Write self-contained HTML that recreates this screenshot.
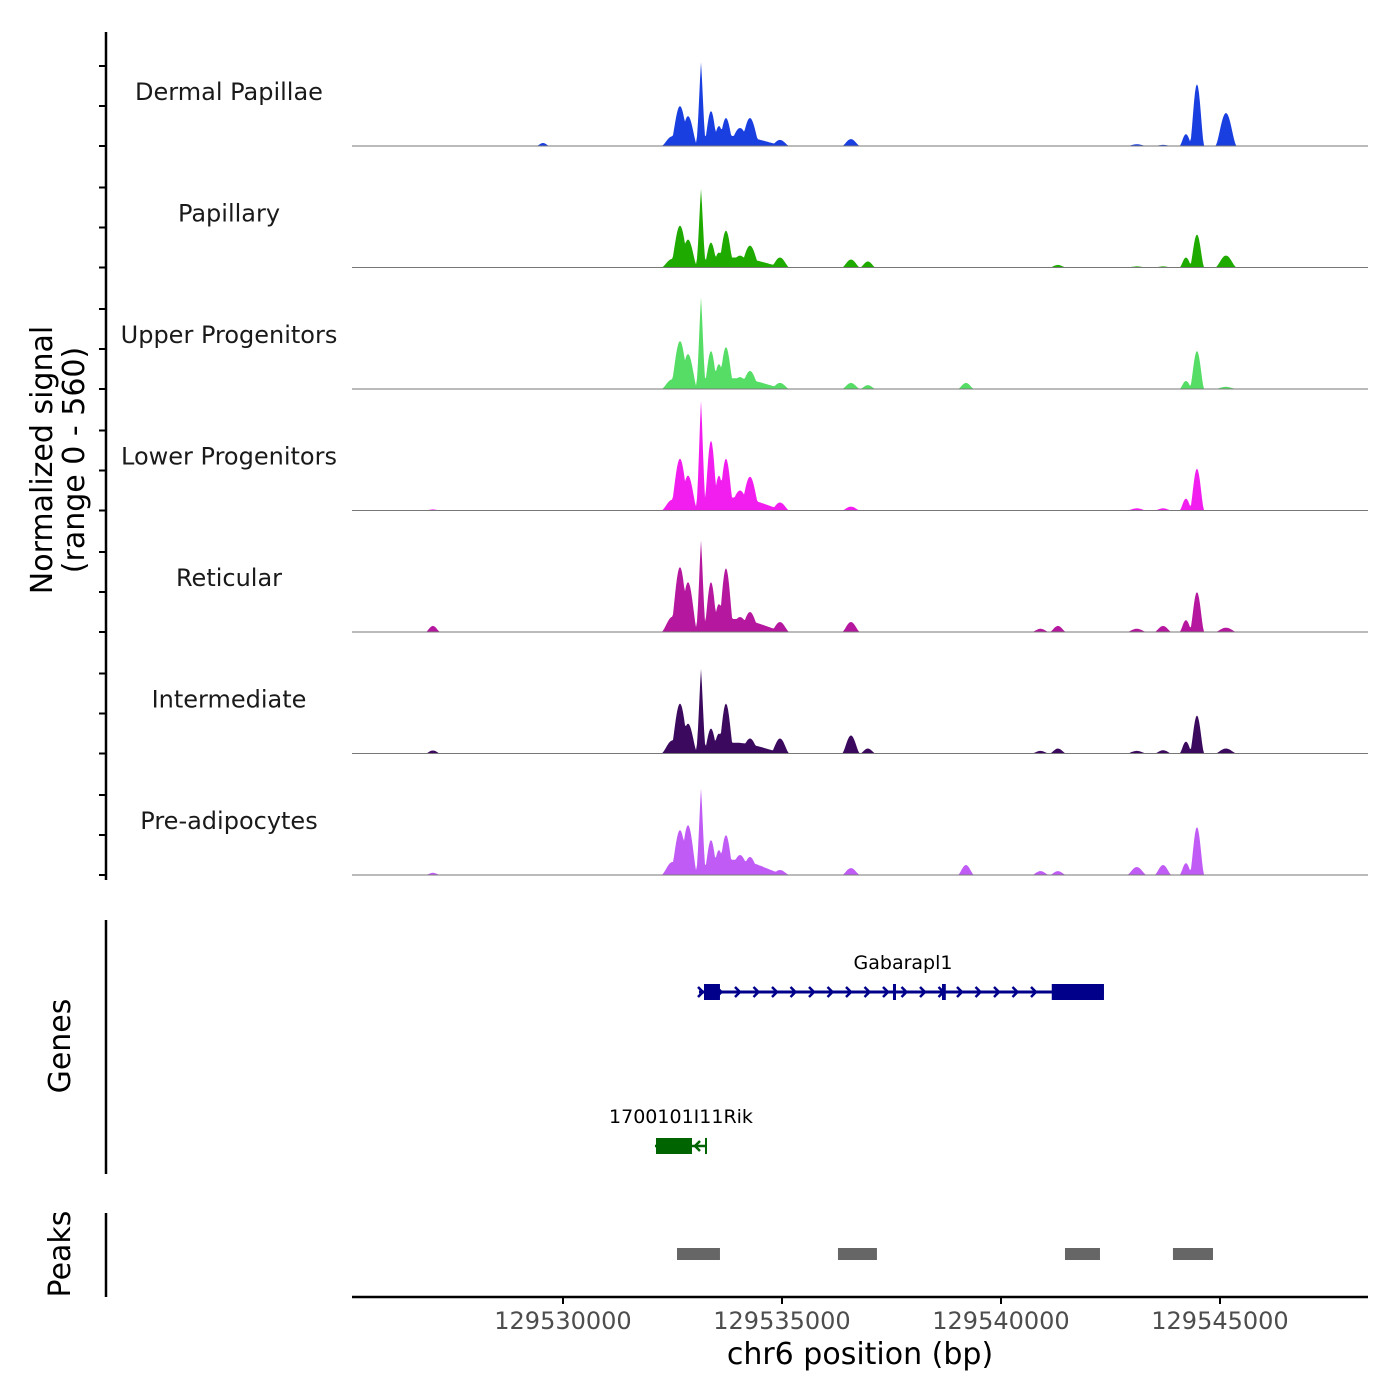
<!DOCTYPE html>
<html><head><meta charset="utf-8"><style>
html,body{margin:0;padding:0;background:#fff}
svg{display:block;font-family:"DejaVu Sans","Liberation Sans",sans-serif}
</style></head><body>
<svg id="chart" width="1400" height="1400" viewBox="0 0 1400 1400" xmlns="http://www.w3.org/2000/svg">
<g id="tracks"></g>
<g id="yaxis"></g>
<text transform="translate(52,460) rotate(-90)" text-anchor="middle" font-size="30" fill="#000">Normalized signal</text>
<text transform="translate(84,460) rotate(-90)" text-anchor="middle" font-size="30" fill="#000">(range 0 - 560)</text>
<line x1="106" y1="920" x2="106" y2="1174" stroke="#000" stroke-width="2.5"/>
<text transform="translate(70,1046) rotate(-90)" text-anchor="middle" font-size="30">Genes</text>
<line x1="106" y1="1213" x2="106" y2="1297" stroke="#000" stroke-width="2.5"/>
<text transform="translate(70,1254) rotate(-90)" text-anchor="middle" font-size="30">Peaks</text>
<g id="genes"></g>
<g id="peaks"></g>
<g id="xaxis"></g>
<text x="860" y="1364" text-anchor="middle" font-size="30">chr6 position (bp)</text>
</svg>
<script>
// ---- data ----
const regionStart = 129525183;
const regionEnd = 129548379;
const trackNames = ["Dermal Papillae","Papillary","Upper Progenitors","Lower Progenitors","Reticular","Intermediate","Pre-adipocytes"];
const trackColors = ["#1a3fe0","#1faa00","#55dd66","#f21ef0","#b5179e","#3b0a5e","#c05cf5"];
// peak centres (bp) and half-widths (bp) shared by tracks
const peakPos = [129532500,129532671,129532854,129533151,129533379,129533561,129533721,129534041,129534269,129534954,129536575,129536960,129539200,129540900,129541300,129543100,129543700,129544223,129544474,129545136,129533900,129529543,129527030];
const peakWidth = [260,230,220,140,170,170,190,280,240,220,210,180,190,200,190,230,200,150,170,250,1300,150,170];
// signal per track (0-560)
const sigDermal = [45,184,138,386,161,92,129,83,129,28,32,0,0,0,0,8,5,55,285,152,46,14,0];
const sigPapillary = [40,193,129,363,115,69,170,55,101,46,37,28,0,0,12,5,5,46,152,55,46,0,0];
const sigUpper = [45,221,161,423,175,115,193,55,83,28,28,18,28,0,0,0,0,37,175,10,50,0,0];
const sigLower = [50,239,161,506,322,161,239,92,156,37,18,0,0,0,0,10,10,55,193,0,60,0,5];
const sigReticular = [70,299,230,423,230,129,294,69,92,46,46,0,0,15,28,15,28,55,184,20,60,0,28];
const sigIntermediate = [60,230,138,391,115,92,230,46,69,69,83,23,0,12,23,12,15,55,175,23,50,0,14];
const sigPreadip = [60,207,230,400,161,115,184,92,83,23,32,0,46,18,18,37,46,55,221,0,70,0,10];
const trackSignals = [sigDermal,sigPapillary,sigUpper,sigLower,sigReticular,sigIntermediate,sigPreadip];
const xTicks = [129530000,129535000,129540000,129545000];
const genePeaksStart = [129532603,129536278,129541461,129543926];
const genePeaksEnd = [129533584,129537168,129542260,129544840];

// ---- scales ----
const X0 = 352, X1 = 1368;
const xs = bp => X0 + (bp - regionStart) / (regionEnd - regionStart) * (X1 - X0);
const trackH = 121.5, firstBase = 146, maxSig = 560;
const ys = (i, v) => firstBase + i * trackH - v / maxSig * trackH;
const NS = "http://www.w3.org/2000/svg";
function mk(tag, attrs, parent) {
  const e = document.createElementNS(NS, tag);
  for (const k in attrs) e.setAttribute(k, attrs[k]);
  parent.appendChild(e);
  return e;
}

// ---- tracks ----
const tg = document.getElementById("tracks");
trackNames.forEach((name, i) => {
  const sig = trackSignals[i];
  let pts = [];
  for (let px = X0; px <= X1; px += 1) {
    const bp = regionStart + (px - X0) / (X1 - X0) * (regionEnd - regionStart);
    let v = 0;
    for (let k = 0; k < peakPos.length; k++) {
      const d = Math.abs(bp - peakPos[k]) / peakWidth[k];
      if (d < 1) { const s = 1 - d * d; v = Math.max(v, sig[k] * s * s * (k === 3 ? (1 - d) : 1)); }
    }
    pts.push(px + "," + ys(i, v).toFixed(1));
  }
  const base = ys(i, 0);
  const area = mk("polygon", {points: X0 + "," + base + " " + pts.join(" ") + " " + X1 + "," + base, fill: trackColors[i]}, tg);
  
  
  const bl = mk("line", {x1: X0, x2: X1, y1: base, y2: base, stroke: "#777", "stroke-width": 1}, tg);
  
  
  const lab = mk("text", {x: 229, y: base - 46, "text-anchor": "middle", "font-size": 24, fill: "#1a1a1a"}, tg);
  lab.textContent = name;
  
  
});

// ---- y axis ----
const ya = document.getElementById("yaxis");
mk("line", {x1: 106, x2: 106, y1: 32, y2: 880, stroke: "#000", "stroke-width": 2.5}, ya);
for (let i = 0; i < 7; i++) for (let k = 0; k < 3; k++) {
  const y = firstBase + i * trackH - k * 40;
  const t = mk("line", {x1: 99, x2: 106, y1: y, y2: y, stroke: "#000", "stroke-width": 2}, ya);
  
  
}

// ---- genes ----
const gg = document.getElementById("genes");
const gStart = 129533105, gEnd = 129542351, gy = 992;
mk("line", {x1: xs(gStart), x2: xs(gEnd), y1: gy, y2: gy, stroke: "#00008b", "stroke-width": 3}, gg);
const exonS = [129533219, 129537534, 129538653, 129541159];
const exonE = [129533584, 129537600, 129538740, 129542351];
exonS.forEach((s, k) => {
  const r = mk("rect", {x: xs(s), y: gy - 8, width: Math.max(3, xs(exonE[k]) - xs(s)), height: 16, fill: "#00008b"}, gg);
  
  
});
for (let px = 701; px < 1045; px += 18.5) {
  mk("polyline", {points: `${px-3},${gy-5} ${px+2},${gy} ${px-3},${gy+5}`, fill: "none", stroke: "#00008b", "stroke-width": 2.5}, gg);
}
const gl = mk("text", {x: 903, y: 969, "text-anchor": "middle", "font-size": 19}, gg);
gl.textContent = "Gabarapl1";


const ry = 1146;
mk("line", {x1: xs(129532100), x2: xs(129533265), y1: ry, y2: ry, stroke: "#006400", "stroke-width": 2.5}, gg);
const rb = mk("rect", {x: xs(129532123), y: ry - 8, width: xs(129532945) - xs(129532123), height: 16, fill: "#006400"}, gg);


mk("polyline", {points: `700,${ry-5} 695,${ry} 700,${ry+5}`, fill: "none", stroke: "#006400", "stroke-width": 2.5}, gg);
mk("line", {x1: xs(129533265), x2: xs(129533265), y1: ry - 8, y2: ry + 8, stroke: "#006400", "stroke-width": 2}, gg);
const rl = mk("text", {x: 681, y: 1123, "text-anchor": "middle", "font-size": 19}, gg);
rl.textContent = "1700101I11Rik";



// ---- peaks ----
const pg = document.getElementById("peaks");
genePeaksStart.forEach((s, k) => {
  const r = mk("rect", {x: xs(s), y: 1248, width: xs(genePeaksEnd[k]) - xs(s), height: 12, fill: "#666"}, pg);
  
  
});

// ---- x axis ----
const xa = document.getElementById("xaxis");
mk("line", {x1: X0, x2: X1, y1: 1297, y2: 1297, stroke: "#000", "stroke-width": 2.5}, xa);
xTicks.forEach(t => {
  const tk = mk("line", {x1: xs(t), x2: xs(t), y1: 1297, y2: 1304, stroke: "#000", "stroke-width": 2}, xa);
  
  
  const lb = mk("text", {x: xs(t), y: 1329, "text-anchor": "middle", "font-size": 24, fill: "#4d4d4d"}, xa);
  lb.textContent = t;
  
  
});
</script>
</body></html>
